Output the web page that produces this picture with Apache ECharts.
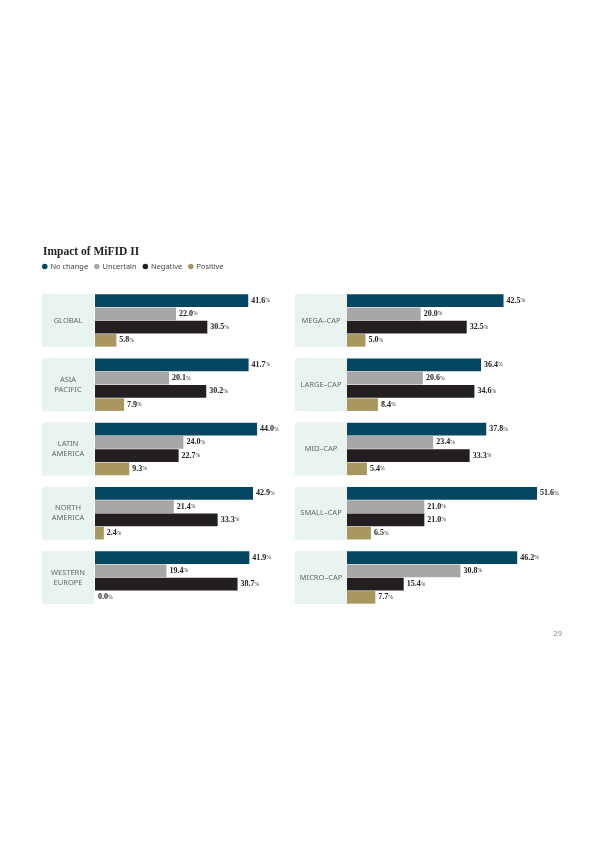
<!DOCTYPE html>
<html>
<head>
<meta charset="utf-8">
<script src="https://cdn.jsdelivr.net/npm/echarts@6/dist/echarts.min.js"></script>
<style>
html,body{margin:0;padding:0;background:#fff;}
#c{width:600px;height:848px;}
</style>
</head>
<body>
<div id="c"></div>
<script>
const title = 'Impact of MiFID II';
const seriesNames = ['No change', 'Uncertain', 'Negative', 'Positive'];
const groupsLeft = ['GLOBAL', 'ASIA\nPACIFIC', 'LATIN\nAMERICA', 'NORTH\nAMERICA', 'WESTERN\nEUROPE'];
const groupsRight = ['MEGA–CAP', 'LARGE–CAP', 'MID–CAP', 'SMALL–CAP', 'MICRO–CAP'];
// values per group, left column then right column
const noChange  = [41.6, 41.7, 44.0, 42.9, 41.9,   42.5, 36.4, 37.8, 51.6, 46.2];
const uncertain = [22.0, 20.1, 24.0, 21.4, 19.4,   20.0, 20.6, 23.4, 21.0, 30.8];
const negative  = [30.5, 30.2, 22.7, 33.3, 38.7,   32.5, 34.6, 33.3, 21.0, 15.4];
const positive  = [5.8,  7.9,  9.3,  2.4,  0.0,    5.0,  8.4,  5.4,  6.5,  7.7];
const pageNumber = '29';

const colors = ['#054761', '#a7a7a7', '#231f20', '#a8975f'];
const valueArrays = [noChange, uncertain, negative, positive];
const groups = groupsLeft.concat(groupsRight);

const rowTop0 = 294, rowStep = 64.25, rowH = 53;
const colBoxLeft = [42, 295], colBarLeft = [95, 347];
const boxW = 52, barAreaW = 221;

const grids = [], xAxes = [], yAxes = [], series = [], graphics = [];
groups.forEach((g, gi) => {
  const col = gi < 5 ? 0 : 1;
  const row = gi % 5;
  const top = rowTop0 + row * rowStep;
  grids.push({left: colBarLeft[col], top: top, width: barAreaW, height: rowH});
  xAxes.push({type: 'value', gridIndex: gi, min: 0, max: 60, show: false});
  yAxes.push({type: 'category', gridIndex: gi, data: [0, 1, 2, 3], inverse: true, show: false});
  graphics.push({
    type: 'rect', left: colBoxLeft[col], top: top, z: -1,
    shape: {width: boxW, height: rowH}, style: {fill: '#e9f4f0'}
  });
  graphics.push({
    type: 'text', x: colBoxLeft[col] + boxW / 2, y: top + rowH / 2,
    style: {text: g, fill: '#666', font: '7.5px "Noto Sans"', align: 'center', verticalAlign: 'middle', lineHeight: 10}
  });
  seriesNames.forEach((name, k) => {
    series.push({
      name: name, type: 'bar', xAxisIndex: gi, yAxisIndex: gi,
      barWidth: 12.6, barGap: '-100%',
      itemStyle: {color: colors[k]},
      data: [0, 1, 2, 3].map(i => i === k ? valueArrays[k][gi] : '-'),
      label: {
        show: true, position: 'right', distance: 3,
        formatter: p => '{a|' + p.value.toFixed(1) + '}{b|%}',
        rich: {
          a: {fontFamily: 'Liberation Serif', fontSize: 8, color: '#222', fontWeight: 'bold'},
          b: {fontFamily: 'Liberation Serif', fontSize: 5.5, color: '#222'}
        }
      },
      silent: true, animation: false
    });
  });
});

graphics.push({
  type: 'text', x: 562, y: 634,
  style: {text: pageNumber, fill: '#888', font: '7.5px "Noto Sans"', align: 'right', verticalAlign: 'middle'}
});

const chart = echarts.init(document.getElementById('c'), null, {renderer: 'canvas'});
chart.setOption({
  backgroundColor: '#fff',
  animation: false,
  title: {
    text: title, left: 38, top: 241,
    textStyle: {fontFamily: 'Liberation Serif', fontSize: 11.5, fontWeight: 'bold', color: '#222'}
  },
  legend: {
    data: seriesNames, left: 37, top: 258, icon: 'circle',
    itemWidth: 5.5, itemHeight: 5.5, itemGap: 6,
    textStyle: {fontFamily: 'Noto Sans', fontSize: 7.4, color: '#444', padding: [0, 0, 0, -2]}
  },
  grid: grids, xAxis: xAxes, yAxis: yAxes, series: series, graphic: graphics
});
</script>
</body>
</html>
